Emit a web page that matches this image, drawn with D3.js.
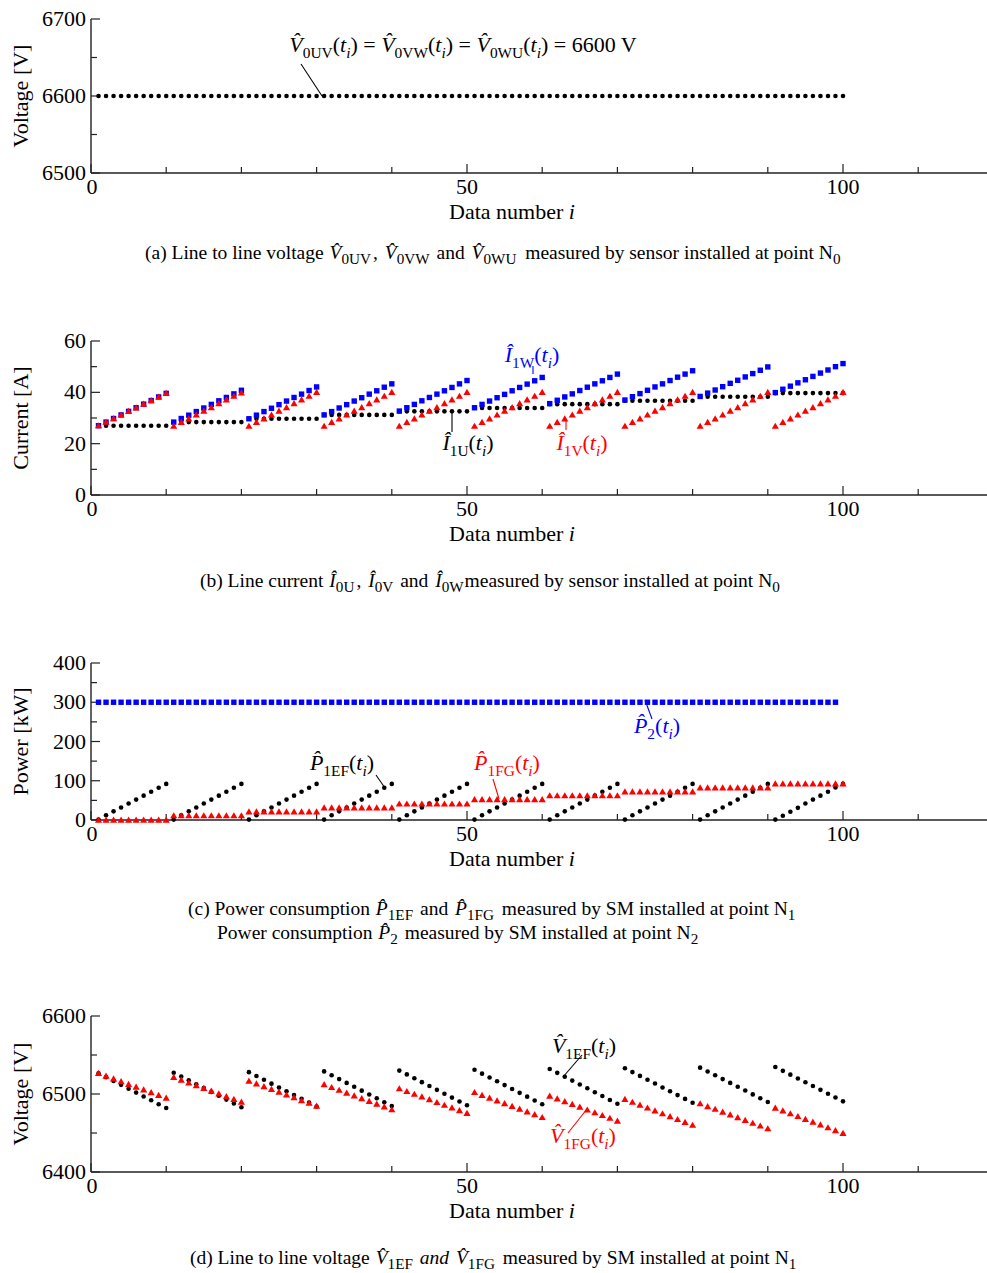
<!DOCTYPE html>
<html><head><meta charset="utf-8">
<script src="https://cdn.jsdelivr.net/npm/d3@7"></script>
<style>
body{margin:0;background:#fff;}
text{font-family:"Liberation Serif","Times New Roman",serif;}
</style></head>
<body><svg id="c" width="987" height="1273"></svg>
<script>
// ---------------- DATA ----------------
const xTicksMajor = [0, 50, 100];
const xTicksMinor = [10, 20, 30, 40, 60, 70, 80, 90, 110];

// (a) line-to-line voltage at N0 [V], i = 1..100
const V0 = [6600,6600,6600,6600,6600,6600,6600,6600,6600,6600,
6600,6600,6600,6600,6600,6600,6600,6600,6600,6600,
6600,6600,6600,6600,6600,6600,6600,6600,6600,6600,
6600,6600,6600,6600,6600,6600,6600,6600,6600,6600,
6600,6600,6600,6600,6600,6600,6600,6600,6600,6600,
6600,6600,6600,6600,6600,6600,6600,6600,6600,6600,
6600,6600,6600,6600,6600,6600,6600,6600,6600,6600,
6600,6600,6600,6600,6600,6600,6600,6600,6600,6600,
6600,6600,6600,6600,6600,6600,6600,6600,6600,6600,
6600,6600,6600,6600,6600,6600,6600,6600,6600,6600];

// (b) line currents [A]
const I1U = [27.0,27.0,27.0,27.0,27.0,27.0,27.0,27.0,27.0,27.0,
28.4,28.4,28.4,28.4,28.4,28.4,28.4,28.4,28.4,28.4,
29.7,29.7,29.7,29.7,29.7,29.7,29.7,29.7,29.7,29.7,
31.2,31.2,31.2,31.2,31.2,31.2,31.2,31.2,31.2,31.2,
32.6,32.6,32.6,32.6,32.6,32.6,32.6,32.6,32.6,32.6,
33.9,33.9,33.9,33.9,33.9,33.9,33.9,33.9,33.9,33.9,
35.4,35.4,35.4,35.4,35.4,35.4,35.4,35.4,35.4,35.4,
36.7,36.7,36.7,36.7,36.7,36.7,36.7,36.7,36.7,36.7,
38.3,38.3,38.3,38.3,38.3,38.3,38.3,38.3,38.3,38.3,
39.7,39.7,39.7,39.7,39.7,39.7,39.7,39.7,39.7,39.7];
const I1V = [27.0,28.4,29.8,31.2,32.6,34.0,35.4,36.8,38.2,39.6,
26.8,28.3,29.7,31.2,32.7,34.1,35.6,37.1,38.5,39.8,
26.8,28.3,29.7,31.2,32.7,34.1,35.6,37.1,38.5,40.0,
26.8,28.3,29.7,31.2,32.7,34.1,35.6,37.1,38.5,40.0,
26.8,28.3,29.7,31.2,32.7,34.1,35.6,37.1,38.5,40.0,
26.8,28.3,29.7,31.2,32.7,34.1,35.6,37.1,38.5,40.0,
26.8,28.3,29.7,31.2,32.7,34.1,35.6,37.1,38.5,40.0,
26.8,28.3,29.7,31.2,32.7,34.1,35.6,37.1,38.5,40.0,
26.8,28.3,29.7,31.2,32.7,34.1,35.6,37.1,38.5,40.0,
26.8,28.3,29.7,31.2,32.7,34.1,35.6,37.1,38.5,40.0];
const I1W = [27.0,28.4,29.8,31.2,32.6,34.0,35.4,36.8,38.2,39.6,
28.4,29.8,31.1,32.5,33.9,35.3,36.7,38.0,39.4,40.8,
29.7,31.1,32.5,33.8,35.2,36.6,38.0,39.3,40.7,42.1,
31.2,32.5,33.9,35.2,36.6,37.9,39.3,40.6,42.0,43.3,
32.7,34.0,35.3,36.7,38.0,39.3,40.6,41.9,43.3,44.6,
34.0,35.3,36.6,37.9,39.2,40.6,41.9,43.2,44.5,45.8,
35.6,36.9,38.2,39.4,40.7,42.0,43.3,44.5,45.8,47.1,
37.0,38.3,39.5,40.8,42.1,43.3,44.6,45.9,47.1,48.4,
38.4,39.7,40.9,42.2,43.5,44.7,46.0,47.3,48.6,49.9,
39.9,41.2,42.4,43.7,44.9,46.2,47.5,48.7,50.0,51.2];

// (c) power [kW]
const P2 = [300,300,300,300,300,300,300,300,300,300,
300,300,300,300,300,300,300,300,300,300,
300,300,300,300,300,300,300,300,300,300,
300,300,300,300,300,300,300,300,300,300,
300,300,300,300,300,300,300,300,300,300,
300,300,300,300,300,300,300,300,300,300,
300,300,300,300,300,300,300,300,300,300,
300,300,300,300,300,300,300,300,300,300,
300,300,300,300,300,300,300,300,300,300,
300,300,300,300,300,300,300,300,300];
const P1EF = [1,12,22,32,42,52,62,72,82,92,
1,12,22,32,42,52,62,72,82,92,
1,12,22,32,42,52,62,72,82,92,
1,12,22,32,42,52,62,72,82,92,
1,12,22,32,42,52,62,72,82,92,
1,12,22,32,42,52,62,72,82,92,
1,12,22,32,42,52,62,72,82,92,
1,12,22,32,42,52,62,72,82,92,
1,12,22,32,42,52,62,72,82,92,
1,11,21,31,42,52,62,72,83,92];
const P1FG = [0,0,0,0,0,0,0,0,0,0,
11,11,11,11,11,11,11,11,11,11,
21,21,21,21,21,21,21,21,21,21,
31,31,31,31,31,31,31,31,31,31,
41,41,41,41,41,41,41,41,41,41,
52,52,52,52,52,52,52,52,52,52,
62,62,62,62,62,62,62,62,62,62,
72,72,72,72,72,72,72,72,72,72,
82,82,82,82,82,82,82,82,82,82,
92,92,92,92,92,92,92,92,92,92];

// (d) line-to-line voltage at N1 [V]
const V1EF = [6526.5,6521.6,6516.6,6511.7,6506.7,6501.8,6496.8,6491.9,6486.9,6482.0,
6527.3,6522.4,6517.5,6512.5,6507.6,6502.7,6497.8,6492.8,6487.9,6483.0,
6528.0,6523.1,6518.2,6513.3,6508.4,6503.6,6498.7,6493.8,6488.9,6484.0,
6529.0,6524.1,6519.1,6514.2,6509.3,6504.3,6499.4,6494.5,6489.5,6484.6,
6530.0,6525.1,6520.1,6515.2,6510.2,6505.3,6500.3,6495.4,6490.4,6485.5,
6531.0,6526.1,6521.2,6516.3,6511.4,6506.4,6501.5,6496.6,6491.7,6486.8,
6532.0,6527.1,6522.1,6517.2,6512.2,6507.3,6502.3,6497.4,6492.4,6487.5,
6533.0,6528.1,6523.2,6518.3,6513.4,6508.4,6503.5,6498.6,6493.7,6488.8,
6533.8,6528.9,6524.0,6519.1,6514.2,6509.3,6504.4,6499.5,6494.6,6489.7,
6534.6,6529.7,6524.8,6519.9,6515.0,6510.2,6505.3,6500.4,6495.5,6490.6];
const V1FG = [6526.5,6523.0,6519.5,6516.0,6512.5,6508.9,6505.4,6501.9,6498.4,6494.9,
6521.4,6517.9,6514.4,6510.8,6507.3,6503.8,6500.3,6496.7,6493.2,6489.7,
6516.7,6513.1,6509.6,6506.0,6502.5,6498.8,6495.3,6491.7,6488.2,6484.6,
6512.0,6508.4,6504.9,6501.3,6497.7,6494.2,6490.6,6487.0,6483.5,6479.9,
6506.8,6503.3,6499.8,6496.3,6492.8,6489.2,6485.7,6482.2,6478.7,6475.2,
6502.0,6498.4,6494.9,6491.3,6487.8,6484.2,6480.7,6477.1,6473.6,6470.0,
6497.4,6493.8,6490.3,6486.7,6483.2,6479.6,6476.1,6472.5,6469.0,6465.4,
6493.2,6489.5,6485.8,6482.1,6478.4,6474.8,6471.1,6467.4,6463.7,6460.0,
6487.6,6484.0,6480.5,6476.9,6473.3,6469.8,6466.2,6462.6,6459.1,6455.5,
6482.0,6478.4,6474.8,6471.2,6467.6,6464.0,6460.4,6456.8,6453.2,6449.6];

// ---------------- DRAWING ----------------
const svg = d3.select("#c");
const BLUE = "#0000ff", RED = "#ff0000", BLACK = "#000";
const FS = 22;

const x = d3.scaleLinear().domain([0, 120]).range([91, 993.4]);

function rich(g, parts, size, color, anchor, subScale) {
  const sc = subScale || 0.7;
  const t = g.append("text").attr("font-size", size).attr("fill", color || BLACK)
    .attr("text-anchor", anchor || "start");
  let sub = false;
  parts.forEach(p => {
    const [str, st, dx] = p;
    const isSub = st === "s" || st === "si";
    const ts = t.append("tspan").text(str);
    if (st === "i" || st === "si") ts.attr("font-style", "italic");
    if (isSub) ts.attr("font-size", size * sc);
    if (isSub && !sub) ts.attr("dy", size * 0.28);
    if (!isSub && sub) ts.attr("dy", -size * 0.28);
    if (dx) ts.attr("dx", dx);
    sub = isSub;
  });
  return t;
}

function panel(cfg) {
  const y = d3.scaleLinear().domain(cfg.dom).range(cfg.rng);
  const g = svg.append("g");
  const axY = cfg.rng[0];
  g.append("line").attr("x1", x(0)).attr("x2", 987).attr("y1", axY).attr("y2", axY)
    .attr("stroke", "#222").attr("stroke-width", 1.4);
  g.append("line").attr("x1", x(0)).attr("x2", x(0)).attr("y1", axY).attr("y2", cfg.rng[1])
    .attr("stroke", "#222").attr("stroke-width", 1.4);
  g.selectAll(".xM").data(xTicksMajor).join("line")
    .attr("x1", d => x(d)).attr("x2", d => x(d)).attr("y1", axY).attr("y2", axY - 9)
    .attr("stroke", "#222").attr("stroke-width", 1.2);
  g.selectAll(".xm").data(xTicksMinor).join("line")
    .attr("x1", d => x(d)).attr("x2", d => x(d)).attr("y1", axY).attr("y2", axY - 6)
    .attr("stroke", "#222").attr("stroke-width", 1.2);
  g.selectAll(".xl").data(xTicksMajor).join("text")
    .attr("x", d => x(d) + (d === 0 ? 1 : 0)).attr("y", axY + 21).attr("text-anchor", "middle")
    .attr("font-size", FS).text(d => d);
  g.selectAll(".yM").data(cfg.major).join("line")
    .attr("x1", x(0)).attr("x2", x(0) + 9).attr("y1", d => y(d)).attr("y2", d => y(d))
    .attr("stroke", "#222").attr("stroke-width", 1.2);
  g.selectAll(".ym").data(cfg.minor).join("line")
    .attr("x1", x(0)).attr("x2", x(0) + 6).attr("y1", d => y(d)).attr("y2", d => y(d))
    .attr("stroke", "#222").attr("stroke-width", 1.2);
  g.selectAll(".yl").data(cfg.major).join("text")
    .attr("x", x(0) - 5).attr("y", d => y(d) + 7).attr("text-anchor", "end")
    .attr("font-size", FS).text(d => d);
  const xt = g.append("text").attr("x", 512).attr("y", axY + 46).attr("text-anchor", "middle")
    .attr("font-size", FS);
  xt.append("tspan").text("Data number ");
  xt.append("tspan").attr("font-style", "italic").text("i");
  g.append("text").attr("transform", `translate(28,${(cfg.rng[0] + cfg.rng[1]) / 2}) rotate(-90)`)
    .attr("text-anchor", "middle").attr("font-size", FS).text(cfg.ytitle);
  return {g, y};
}

function circles(g, y, data, color) {
  g.append("g").selectAll("circle").data(data).join("circle")
    .attr("cx", (d, i) => x(i + 1)).attr("cy", d => y(d)).attr("r", 2.3).attr("fill", color);
}
function squares(g, y, data, color) {
  g.append("g").selectAll("rect").data(data).join("rect")
    .attr("x", (d, i) => x(i + 1) - 2.7).attr("y", d => y(d) - 2.7)
    .attr("width", 5.4).attr("height", 5.4).attr("fill", color);
}
function triangles(g, y, data, color) {
  const sym = d3.symbol().type(d3.symbolTriangle).size(22);
  g.append("g").selectAll("path").data(data).join("path")
    .attr("transform", (d, i) => `translate(${x(i + 1)},${y(d) + 0.6})`)
    .attr("d", sym).attr("fill", color);
}
function leader(g, x1, y1, x2, y2, color) {
  g.append("line").attr("x1", x1).attr("y1", y1).attr("x2", x2).attr("y2", y2)
    .attr("stroke", color).attr("stroke-width", 1.1);
}

const HV = "V\u0302", HI = "I\u0302", HP = "P\u0302";

// ---- Panel (a)
{
  const {g, y} = panel({dom: [6500, 6700], rng: [173, 19], major: [6500, 6600, 6700], minor: [6550, 6650], ytitle: "Voltage [V]"});
  circles(g, y, V0, BLACK);
  leader(g, 301, 64, 322, 96, BLACK);
  rich(g, [[HV, "i"], ["0UV", "s"], ["(", "n"], ["t", "i"], ["i", "si"], [") = ", "n"],
           [HV, "i"], ["0VW", "s"], ["(", "n"], ["t", "i"], ["i", "si"], [") = ", "n"],
           [HV, "i"], ["0WU", "s"], ["(", "n"], ["t", "i"], ["i", "si"], [") = 6600 V", "n"]], 22, BLACK, "middle")
    .attr("x", 463).attr("y", 52);
}
// ---- Panel (b)
{
  const {g, y} = panel({dom: [0, 60], rng: [495, 341], major: [0, 20, 40, 60], minor: [10, 30, 50], ytitle: "Current [A]"});
  circles(g, y, I1U, BLACK);
  squares(g, y, I1W, BLUE);
  triangles(g, y, I1V, RED);
  leader(g, 533, 366, 533, 374, BLUE);
  leader(g, 452, 411, 452, 432, BLACK);
  leader(g, 566, 419, 566, 430, RED);
  rich(g, [[HI, "i"], ["1W", "s"], ["(", "n"], ["t", "i"], ["i", "si"], [")", "n"]], 22, BLUE, "middle").attr("x", 532).attr("y", 362);
  rich(g, [[HI, "i"], ["1U", "s"], ["(", "n"], ["t", "i"], ["i", "si"], [")", "n"]], 22, BLACK, "middle").attr("x", 468).attr("y", 450);
  rich(g, [[HI, "i"], ["1V", "s"], ["(", "n"], ["t", "i"], ["i", "si"], [")", "n"]], 22, RED, "middle").attr("x", 582).attr("y", 450);
}
// ---- Panel (c)
{
  const {g, y} = panel({dom: [0, 400], rng: [820, 663], major: [0, 100, 200, 300, 400], minor: [50, 150, 250, 350], ytitle: "Power [kW]"});
  squares(g, y, P2, BLUE);
  circles(g, y, P1EF, BLACK);
  triangles(g, y, P1FG, RED);
  leader(g, 645, 700, 652, 719, BLUE);
  leader(g, 376, 775, 385, 788, BLACK);
  leader(g, 493, 779, 499, 799, RED);
  rich(g, [[HP, "i"], ["2", "s"], ["(", "n"], ["t", "i"], ["i", "si"], [")", "n"]], 22, BLUE, "middle").attr("x", 657).attr("y", 733);
  rich(g, [[HP, "i"], ["1EF", "s"], ["(", "n"], ["t", "i"], ["i", "si"], [")", "n"]], 22, BLACK, "middle").attr("x", 342).attr("y", 770);
  rich(g, [[HP, "i"], ["1FG", "s"], ["(", "n"], ["t", "i"], ["i", "si"], [")", "n"]], 22, RED, "middle").attr("x", 507).attr("y", 770);
}
// ---- Panel (d)
{
  const {g, y} = panel({dom: [6400, 6600], rng: [1172, 1016], major: [6400, 6500, 6600], minor: [6450, 6550], ytitle: "Voltage [V]"});
  circles(g, y, V1EF, BLACK);
  triangles(g, y, V1FG, RED);
  leader(g, 582, 1055, 563, 1077, BLACK);
  leader(g, 568, 1133, 587, 1109, RED);
  rich(g, [[HV, "i"], ["1EF", "s"], ["(", "n"], ["t", "i"], ["i", "si"], [")", "n"]], 22, BLACK, "middle").attr("x", 584).attr("y", 1053);
  rich(g, [[HV, "i"], ["1FG", "s"], ["(", "n"], ["t", "i"], ["i", "si"], [")", "n"]], 22, RED, "middle").attr("x", 583).attr("y", 1143);
}

// ---- Captions
const CF = 19.5, CS = 0.78;
rich(svg, [["(a) Line to line voltage ", "n"], [HV, "i", 1], ["0UV", "s"], [", ", "n", 2], [HV, "i", 2], ["0VW", "s"],
  [" and ", "n", 2], [HV, "i", 2], ["0WU", "s"], [" measured by sensor installed at point N", "n", 4], ["0", "s"]], CF, BLACK, "start", CS)
  .attr("x", 145).attr("y", 259);
rich(svg, [["(b) Line current ", "n"], [HI, "i", 1], ["0U", "s"], [", ", "n", 2], [HI, "i", 2], ["0V", "s"],
  [" and ", "n", 2], [HI, "i", 2], ["0W", "s"], ["measured by sensor installed at point N", "n", 1], ["0", "s"]], CF, BLACK, "start", CS)
  .attr("x", 200).attr("y", 587);
rich(svg, [["(c) Power consumption ", "n"], [HP, "i", 1], ["1EF", "s"], [" and ", "n", 2], [HP, "i", 2], ["1FG", "s"],
  [" measured by SM installed at point N", "n", 3], ["1", "s"]], CF, BLACK, "start", CS)
  .attr("x", 188).attr("y", 915);
rich(svg, [["Power consumption ", "n"], [HP, "i", 1], ["2", "s"],
  [" measured by SM installed at point N", "n", 2], ["2", "s"]], CF, BLACK, "start", CS)
  .attr("x", 217).attr("y", 939);
rich(svg, [["(d) Line to line voltage ", "n"], [HV, "i", 1], ["1EF", "s"], [" ", "n", 2], ["and", "i"], [" ", "n"], [HV, "i", 2], ["1FG", "s"],
  [" measured by SM installed at point N", "n", 3], ["1", "s"]], CF, BLACK, "start", CS)
  .attr("x", 190).attr("y", 1264);
</script></body></html>
